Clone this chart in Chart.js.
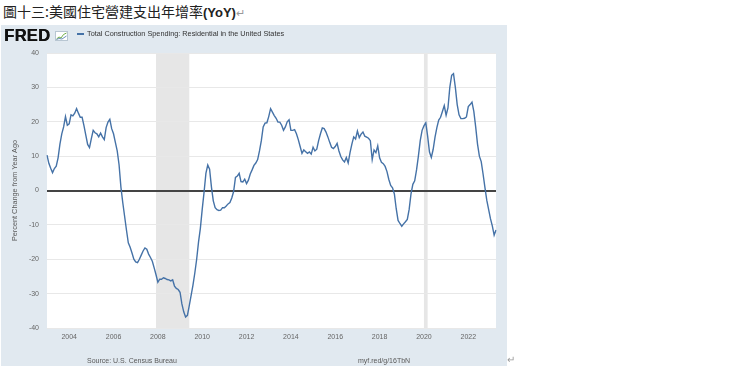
<!DOCTYPE html>
<html>
<head>
<meta charset="utf-8">
<script src="https://cdn.jsdelivr.net/npm/chart.js@4"></script>
<style>
  body { margin: 0; width: 740px; height: 366px; background: #fff; position: relative; overflow: hidden; font-family: "Liberation Sans", Arial, sans-serif; }
  #title { position: absolute; left: 3px; top: 1px; font-size: 14px; font-family: "Noto Sans CJK TC", sans-serif; color: #222; white-space: nowrap; }
  #title b { font-family: "Liberation Sans", Arial, sans-serif; font-size: 13px; }
  #title i { font-style: normal; color: #999; font-size: 11px; }
  #panel { position: absolute; left: 1px; top: 25px; width: 506px; height: 341px; background: #e1e9f0; }
  #panel canvas { position: absolute; left: 0; top: 0; }
  .logo { position: absolute; left: 3px; top: 1px; font: bold 16.5px "Liberation Sans", Arial, sans-serif; letter-spacing: 0.3px; color: #111; text-shadow: 0.5px 0 #111; }
  .icon { position: absolute; left: 54px; top: 6px; }
  .legend { position: absolute; left: 76px; top: 4px; font-size: 7.3px; color: #333; white-space: nowrap; }
  .legend span { display: inline-block; width: 7px; height: 1.5px; background: #4572a7; vertical-align: middle; margin-right: 3px; }
  .foot { position: absolute; top: 332px; font-size: 7px; color: #595959; white-space: nowrap; }
  #mark { position: absolute; left: 507px; top: 354px; font-size: 10px; color: #999; }
</style>
</head>
<body>
<div id="title">圖十三:美國住宅營建支出年增率<b>(YoY)</b><i>↵</i></div>
<div id="panel">
  <canvas id="chart" width="506" height="341"></canvas>
  <div class="logo">FRED</div>
  <svg class="icon" width="13" height="10" viewBox="0 0 13 10">
    <rect x="0.5" y="0.5" width="12" height="9" fill="#fff" stroke="#b8c6d2"/>
    <polyline points="1.5,8 4,6 6,7 8.5,3.5 11.5,2" fill="none" stroke="#6fae4b" stroke-width="1"/>
    <polyline points="1.5,8.5 4,7.5 7,8 11.5,5" fill="none" stroke="#4572a7" stroke-width="0.8"/>
  </svg>
  <div class="legend"><span></span>Total Construction Spending: Residential in the United States</div>
  <div class="foot" style="left:86px">Source: U.S. Census Bureau</div>
  <div class="foot" style="left:357px">myf.red/g/16TbN</div>
</div>
<div id="mark">↵</div>
<script>
  // Percent change from year ago, monthly from Jan 2003
  const startYear = 2003;
  const yoyPct = [
    10.3, 7.9, 6.5, 5.2, 6.4, 7.1, 9.5, 13.5, 16.5, 18.5, 21.5, 19.0,          // 2003
    19.4, 22.0, 21.7, 22.5, 23.8, 22.5, 21.3, 21.3, 18.9, 16.1, 13.4, 12.5,    // 2004
    15.1, 17.5, 16.8, 16.5, 15.6, 16.7, 15.6, 14.8, 18.3, 19.9, 20.7, 18.0,    // 2005
    16.5, 14.0, 11.5, 7.5, 1.0, -3.5, -7.5, -11.5, -15.2, -16.5, -18.2, -20.0, // 2006
    -20.8, -21.0, -20.0, -18.8, -17.6, -16.7, -17.1, -18.5, -19.5, -20.6, -22.5, -24.5, // 2007
    -26.7, -25.8, -25.8, -25.4, -25.6, -25.9, -26.0, -26.3, -26.0, -27.8, -28.5, -28.8, // 2008
    -29.6, -33.0, -35.3, -36.8, -36.3, -33.5, -30.5, -27.5, -24.0, -20.0, -15.0, -11.0, // 2009
    -5.5, -0.5, 5.0, 7.4, 6.2, 1.0, -3.0, -5.0, -5.6, -5.8, -5.7, -5.0,        // 2010
    -5.0, -4.5, -3.9, -3.5, -2.2, -0.3, 3.8, 4.2, 5.0, 2.6, 2.5, 3.3,          // 2011
    2.0, 3.0, 4.8, 6.0, 7.3, 8.0, 9.0, 11.5, 14.5, 18.5, 19.6, 19.7,           // 2012
    21.5, 23.8, 22.8, 21.8, 21.0, 19.9, 19.9, 19.0, 17.5, 18.5, 20.0, 20.6,    // 2013
    17.5, 17.5, 17.7, 16.5, 14.8, 12.8, 10.8, 11.8, 11.3, 10.8, 11.2, 10.6,    // 2014
    12.6, 11.5, 12.0, 14.5, 16.5, 18.2, 18.0, 17.0, 15.6, 14.0, 12.6, 12.2,    // 2015
    12.8, 13.7, 11.5, 9.9, 8.9, 8.3, 9.6, 8.0, 11.0, 13.5, 15.6, 15.0,         // 2016
    17.3, 15.4, 16.4, 17.0, 15.8, 15.5, 15.2, 14.5, 9.0, 11.8, 11.0, 13.0,     // 2017
    9.5, 8.2, 7.8, 7.0, 5.5, 3.2, 1.5, 0.8, -1.0, -5.3, -8.7, -9.6,            // 2018
    -10.4, -9.7, -9.1, -8.4, -5.5, -1.0, 1.8, 2.8, 6.0, 10.0, 14.5, 17.5,      // 2019
    18.8, 19.7, 15.8, 11.2, 9.6, 12.0, 15.5, 18.3, 20.5, 21.3, 23.0, 24.7,     // 2020
    21.9, 24.0, 30.0, 33.5, 34.0, 30.0, 25.0, 22.0, 20.9, 20.9, 21.0, 21.4,    // 2021
    24.4, 25.0, 25.7, 23.0, 18.5, 13.5, 10.0, 8.4, 4.8, 0.9, -2.8, -5.5,       // 2022
    -8.2, -10.3, -13.0, -11.5                                                  // 2023
  ];
  const recessions = [['2007-12', '2009-06'], ['2020-01', '2020-03']];
  const yTicks = [-40, -30, -20, -10, 0, 10, 20, 30, 40];

  const monthLabels = yoyPct.map((_, i) =>
    (startYear + Math.floor(i / 12)) + '-' + String(i % 12 + 1).padStart(2, '0'));

  // white plot background + grey recession bars
  const backdrop = {
    id: 'backdrop',
    beforeDraw(chart) {
      const { ctx, chartArea: a, scales: { x } } = chart;
      ctx.save();
      ctx.fillStyle = '#fff';
      ctx.fillRect(a.left, a.top, a.right - a.left, a.bottom - a.top);
      ctx.fillStyle = '#e6e6e6';
      recessions.forEach(([s, e]) => {
        const x0 = x.getPixelForValue(monthLabels.indexOf(s));
        const x1 = x.getPixelForValue(monthLabels.indexOf(e));
        ctx.fillRect(x0, a.top, x1 - x0, a.bottom - a.top);
      });
      ctx.restore();
    }
  };

  new Chart(document.getElementById('chart'), {
    type: 'line',
    data: {
      labels: monthLabels,
      datasets: [{
        data: yoyPct, borderColor: '#4572a7', borderWidth: 1.4,
        pointRadius: 0, tension: 0, fill: false
      }]
    },
    plugins: [backdrop],
    options: {
      responsive: false, animation: false,
      layout: { padding: { left: 6, right: 11, top: 28, bottom: 20 } },
      plugins: { legend: { display: false }, tooltip: { enabled: false } },
      scales: {
        x: {
          offset: false,
          grid: { display: false, drawTicks: false },
          border: { display: false },
          afterBuildTicks: s => {
            s.ticks = s.ticks.filter(t => {
              const [y, m] = monthLabels[t.value].split('-');
              return m === '01' && +y % 2 === 0;
            });
          },
          afterFit: s => { s.height = 18; },
          ticks: {
            autoSkip: false, maxRotation: 0, padding: 5,
            color: '#666', font: { size: 7, family: 'Liberation Sans' },
            callback: function (v) { return monthLabels[v].slice(0, 4); }
          }
        },
        y: {
          min: -40, max: 40,
          afterBuildTicks: s => { s.ticks = yTicks.map(v => ({ value: v })); },
          afterFit: s => { s.width = 40; },
          border: { display: false },
          grid: {
            drawTicks: false,
            color: c => c.tick.value === 0 ? '#444' : '#e8e8e8',
            lineWidth: c => c.tick.value === 0 ? 2 : 1
          },
          ticks: { padding: 8, color: '#666', font: { size: 7, family: 'Liberation Sans' } },
          title: {
            display: true, text: 'Percent Change from Year Ago',
            color: '#595959', font: { size: 7.3, family: 'Liberation Sans' }
          }
        }
      }
    }
  });
</script>
</body>
</html>
